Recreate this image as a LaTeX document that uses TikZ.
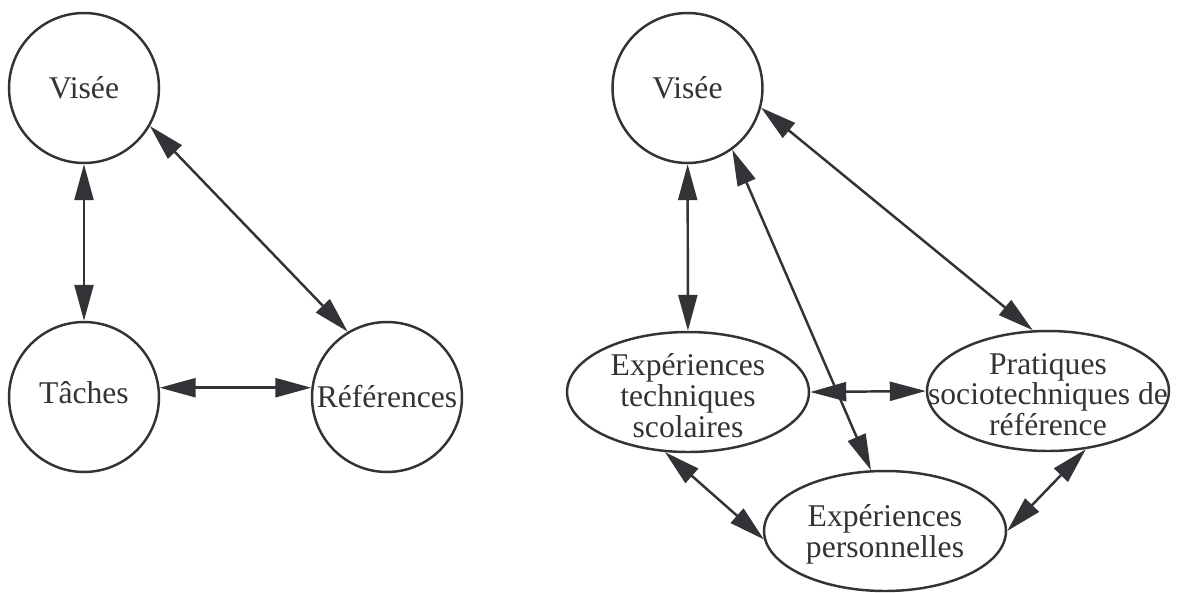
\documentclass[tikz,border=0pt]{standalone}
\usepackage{fontspec}
\setmainfont{Liberation Serif}
\usepackage{tikz}
\usetikzlibrary{arrows.meta}
\usetikzlibrary{shapes.geometric}
\definecolor{ink}{HTML}{333337}
\newcommand{\cnode}[3]{\node(#1)[ring] at (#2) {#3}}
\newcommand{\enode}[3]{\node(#1)[oval] at (#2) {}; \node[word] at (#1) {#3}}

\begin{document}
\begin{tikzpicture}[
        x=0.02cm, y=-0.02cm,
        every node/.style={font=\fontsize{18}{17.5}\selectfont, text=ink},
        ring/.style={circle,minimum size=3cm,inner sep=0pt,line width=1.4pt,draw=ink},
        oval/.style={ellipse,minimum width=4.84cm,minimum height=2.4cm,inner sep=0pt,
                     line width=1.4pt,draw=ink},
        word/.style={align=center,inner sep=0pt,yshift=-0.07cm},
        link/.style={{Triangle[length=0.72cm,width=0.38cm]}-{Triangle[length=0.72cm,width=0.38cm]},
                     line width=1.4pt,draw=ink,fill=ink}
      ]
      \useasboundingbox (0,0) rectangle (1177,592);

      % Left triangle: Visee, Taches, References
      \cnode{lvis}{84,88}{Visée};
      \cnode{ltac}{84,397}{\raisebox{0.3em}{Tâches}};
      \cnode{lref}{387,397}{Références};

      % Right diagram: Visee above three ellipses
      \cnode{rvis}{687.5,88}{Visée};
      \enode{ets}{688,392}{Expériences\\techniques\\scolaires};
      \enode{prat}{1048,391}{Pratiques\\sociotechniques de\\référence};
      \enode{ep}{885,531}{Expériences\\personnelles};

      % Double arrows of the left part
      \draw[link] (lvis) -- (ltac);
      \draw[link] (lvis.-30) -- (lref.121);
      \draw[link] (ltac.7) -- (lref.173);

      % Double arrows of the right part
      \draw[link] (rvis) -- (ets);
      \draw[link] (rvis.-15) -- (prat.104);
      \draw[link] (rvis.-54) -- (ep.103);
      \draw[link] (ets.east) -- (prat.west);
      \draw[link] (ets.-111) -- (ep.184);
      \draw[link] (prat.-57) -- (ep.east);
    \end{tikzpicture}
\end{document}
